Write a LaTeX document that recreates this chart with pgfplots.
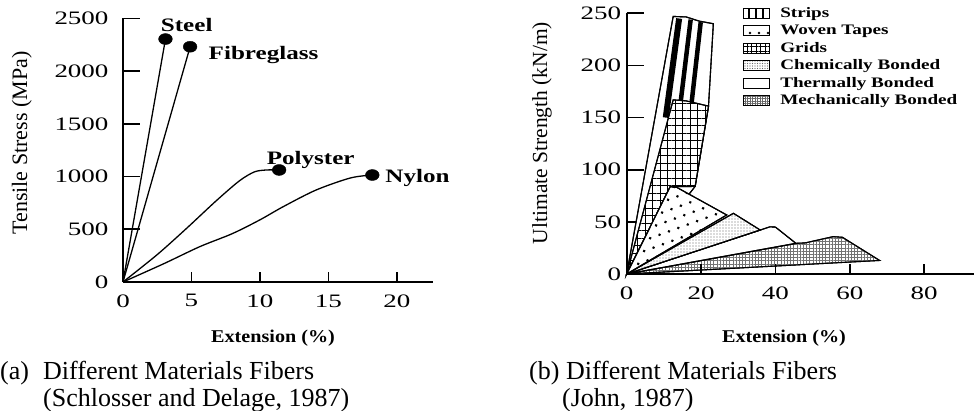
\documentclass[border=0pt]{standalone}
\usepackage{fontspec}
\setmainfont{Liberation Serif}
\newfontfamily\widefont[FakeStretch=1.42]{Liberation Serif}
\newfontfamily\boldwide[FakeStretch=1.32]{Liberation Serif}
\newfontfamily\labfont[FakeStretch=1.12]{Liberation Serif}
\usepackage{pgfplots}
\pgfplotsset{compat=1.18}
\usetikzlibrary{patterns.meta}

\newcommand\tickfont{\widefont\fontsize{19}{19}\selectfont}
\newcommand\tagfont{\boldwide\bfseries\fontsize{19}{19}\selectfont}
\newcommand\capfont{\fontsize{26}{27}\selectfont}

\pgfplotsset{
  panel/.style={
    scale only axis, enlargelimits=false, clip=false,
    axis x line*=bottom, axis y line*=left,
    axis line style={line width=2pt, black},
    tick align=inside, major tick length=17pt,
    ytick style={line width=1.8pt, black},
    xtick style={draw=none},
    ticklabel style={font=\tickfont},
    /pgf/number format/assume math mode=true,
    /pgf/number format/1000 sep={},
    xlabel style={font=\labfont\bfseries\fontsize{18}{18}\selectfont, anchor=center},
    ylabel style={anchor=center},
  },
  tk/.style={line width=1.8pt, black, forget plot},
  curve/.style={line width=1.3pt, black, forget plot},
  poly/.style={draw=black, line width=1.1pt, preaction={fill=white}, forget plot},
}

\begin{document}
\begin{tikzpicture}
\path[use as bounding box] (0,0) rectangle (974pt,-411pt);

% (a) tensile stress vs extension
\begin{axis}[panel,
  at={(123pt,-282pt)}, anchor=south west,
  width=310pt, height=263.5pt,
  xmin=0, xmax=22.63, ymin=0, ymax=2500,
  xtick={0,5,10,15,20}, ytick={0,500,...,2500},
  yticklabel style={xshift=-11pt}, xticklabel style={yshift=-9pt},
  xlabel={Extension (\%)},
  xlabel style={at={(axis description cs:0.484,-0.2125)}},
  ylabel={Tensile Stress (MPa)},
  ylabel style={at={(axis description cs:-0.326,0.527)}, font=\fontsize{22}{22}\selectfont},
]
\addplot[curve] coordinates {(0,0)(3.1,2305)};
\addplot[curve] coordinates {(0,0)(4.9,2232)};
\addplot[curve, smooth] coordinates {
  (0,0)(2.5,260)(4.65,510)(6.8,770)(8.5,960)(9.6,1045)(10.5,1063)(11.4,1063)};
\addplot[curve, smooth] coordinates {
  (0,0)(3,175)(5.6,335)(8,460)(10,590)(11.7,715)(14.1,873)(16.6,987)(18.2,1015)};
\addplot[only marks, mark=*, mark size=5.5pt, forget plot,
  mark options={xscale=1.25, fill=black, draw=black}]
  coordinates {(3.1,2305)(4.9,2232)(11.4,1063)(18.2,1015)};
% short x ticks
\addplot[tk] coordinates {(5,0)(5,95)};
\addplot[tk] coordinates {(10,0)(10,95)};
\addplot[tk] coordinates {(15,0)(15,95)};
\addplot[tk] coordinates {(20,0)(20,95)};
\node[font=\tagfont] at (axis cs:4.65,2434) {Steel};
\node[font=\tagfont] at (axis cs:10.26,2154) {Fibreglass};
\node[font=\tagfont] at (axis cs:13.7,1157) {Polyster};
\node[font=\tagfont] at (axis cs:21.5,991) {Nylon};
\end{axis}

% (b) ultimate strength vs extension
\begin{axis}[panel,
  at={(626.7pt,-274pt)}, anchor=south west,
  width=347.3pt, height=260.7pt,
  xmin=0, xmax=93.4, ymin=0, ymax=250,
  xtick={0,20,40,60,80}, ytick={0,50,...,250},
  yticklabel style={xshift=-2pt}, xticklabel style={yshift=-9pt},
  xlabel={Extension (\%)},
  xlabel style={at={(axis description cs:0.453,-0.2455)}},
  ylabel={Ultimate Strength (kN/m)},
  ylabel style={at={(axis description cs:-0.244,0.541)}, font=\fontsize{21.5}{21.5}\selectfont},
  legend image code/.code={\draw[#1] (0pt,-5pt) rectangle (26pt,5pt);},
  legend cell align=left,
  legend style={draw=none, fill=none, inner sep=0pt, row sep=2pt,
    at={(axis description cs:0.332,1.03)}, anchor=north west,
    font=\boldwide\bfseries\fontsize{14.5}{14.5}\selectfont,
    nodes={inner ysep=0.5pt, inner xsep=9.5pt, text height=11pt, text depth=3.5pt}},
]
\addlegendimage{draw=black, line width=1pt, preaction={fill=white}, pattern={Lines[angle=90,distance=7pt,line width=2.6pt]}}
\addlegendentry{Strips}
\addlegendimage{draw=black, line width=1pt, preaction={fill=white}, pattern={Dots[distance=9pt,radius=1.4pt,xshift=3pt]}}
\addlegendentry{Woven Tapes}
\addlegendimage{draw=black, line width=1pt, preaction={fill=white}, pattern={Hatch[angle=0,distance=4.5pt,line width=0.9pt]}}
\addlegendentry{Grids}
\addlegendimage{draw=black, line width=1pt, preaction={fill=white}, pattern={Dots[distance=2.5pt,radius=0.55pt]}, pattern color=black!60}
\addlegendentry{Chemically Bonded}
\addlegendimage{draw=black, line width=1pt, fill=white}
\addlegendentry{Thermally Bonded}
\addlegendimage{draw=black, line width=1pt, preaction={fill=white}, pattern={Hatch[angle=0,distance=2.5pt,line width=0.4pt]}, pattern color=black!60}
\addlegendentry{Mechanically Bonded}

% strips
\addplot[poly] coordinates {(0,0)(12.5,247)(16,246.5)(19.5,242.5)(23.3,240)(22,161)(18.4,84)} -- cycle;
\addplot[curve, line width=6pt] coordinates {(10.5,150)(14.1,245)};
\addplot[curve, line width=4.5pt] coordinates {(14,150)(17.2,244)};
\addplot[curve, line width=4.5pt] coordinates {(17,150)(19.9,241.5)};
% grids
\addplot[poly, pattern={Hatch[angle=0,distance=7.5pt,line width=1pt]}]
  coordinates {(0,0)(12.5,167)(16,166)(22,161)(18.4,84)(11.7,83.7)} -- cycle;
% mechanically bonded
\addplot[poly, pattern={Hatch[angle=0,distance=3.2pt,line width=0.4pt]}, pattern color=black!55]
  coordinates {(0,0)(45.5,29.4)(48,29.8)(55.5,35.8)(58,35.2)(68,13)} -- cycle;
% thermally bonded
\addplot[poly] coordinates {(0,0)(38.5,45.2)(40,45)(45.5,29.4)} -- cycle;
% chemically bonded
\addplot[poly, pattern={Dots[distance=3pt,radius=0.65pt]}, pattern color=black!60]
  coordinates {(0,0)(28.7,58.2)(35.9,42.2)} -- cycle;
% woven tapes
\addplot[poly, pattern={Dots[distance=10pt,radius=1.5pt,angle=20]}]
  coordinates {(0,0)(11.7,83.7)(13.5,83)(26.9,56.6)} -- cycle;
% short x ticks
\addplot[tk] coordinates {(20,0)(20,9.6)};
\addplot[tk] coordinates {(40,0)(40,9.6)};
\addplot[tk] coordinates {(60,0)(60,9.6)};
\addplot[tk] coordinates {(80,0)(80,9.6)};
\end{axis}

\node[anchor=base west, inner sep=0pt, font=\capfont] at (0pt,-379pt) {(a)};
\node[anchor=base west, inner sep=0pt, font=\capfont] at (43pt,-379pt) {Different Materials Fibers};
\node[anchor=base west, inner sep=0pt, font=\capfont] at (43pt,-406pt) {(Schlosser and Delage, 1987)};
\node[anchor=base west, inner sep=0pt, font=\capfont] at (529pt,-379pt) {(b) Different Materials Fibers};
\node[anchor=base west, inner sep=0pt, font=\capfont] at (562pt,-406pt) {(John, 1987)};
\end{tikzpicture}
\end{document}
